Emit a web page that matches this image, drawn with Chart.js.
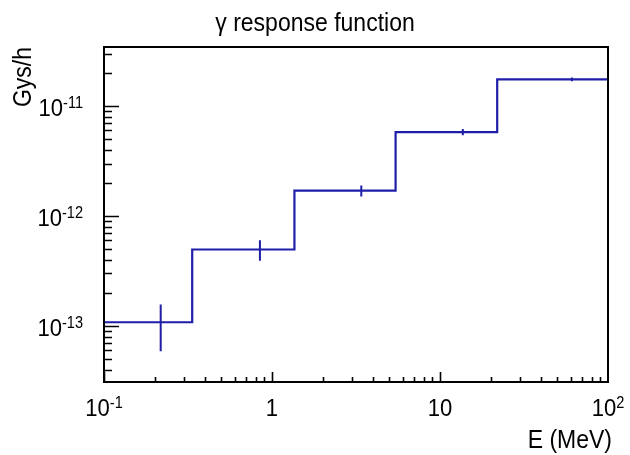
<!DOCTYPE html>
<html>
<head>
<meta charset="utf-8">
<script src="https://cdn.jsdelivr.net/npm/chart.js@4"></script>
<style>
  html, body { margin: 0; padding: 0; background: #ffffff; }
  #wrap { width: 630px; height: 455px; }
</style>
</head>
<body>
<div id="wrap"><canvas id="c" width="630" height="455"></canvas></div>
<script>
// ---- data ----
const binEdges = [0.1, 0.335, 1.36, 5.44, 21.9, 100];          // E (MeV)
const binValues = [1.08e-13, 4.96e-13, 1.70e-12, 5.8e-12, 1.75e-11]; // Gys/h
const binErrors = [4.9e-14, 1.05e-13, 1.96e-13, 3.8e-13, 7.0e-13];
const xTickValues = [0.1, 1, 10, 100];
const xTickLabels = ['10^-1', '1', '10', '10^2'];
const yTickValues = [1e-13, 1e-12, 1e-11];
const yTickLabels = ['10^-13', '10^-12', '10^-11'];
const titleText = '\u03B3 response function';
const xTitle = 'E (MeV)';
const yTitle = 'Gys/h';
const xRange = [0.1, 100];
const yRange = [3.09e-14, 3.45e-11];

// ---- build datasets ----
const histPoints = binEdges.map((e, i) => ({ x: e, y: binValues[Math.min(i, binValues.length - 1)] }));
const errPoints = [];
binValues.forEach((v, i) => {
  const c = (binEdges[i] + binEdges[i + 1]) / 2;
  errPoints.push({ x: c, y: v - binErrors[i] });
  errPoints.push({ x: c, y: v + binErrors[i] });
  errPoints.push({ x: c, y: null });
});

const BLUE = '#1e1ea8';
const FONT = '"Liberation Sans", Arial, Helvetica, sans-serif';
const HS = 0.92; // horizontal squeeze of the reference lettering

function textW(ctx, s, size) {
  ctx.font = size + 'px ' + FONT;
  return ctx.measureText(s).width * HS;
}
function put(ctx, s, x, y, size) {
  ctx.save();
  ctx.font = size + 'px ' + FONT;
  ctx.textAlign = 'left';
  ctx.textBaseline = 'alphabetic';
  ctx.translate(x, y);
  ctx.scale(HS, 1);
  ctx.fillText(s, 0, 0);
  ctx.restore();
}
function drawSupLabel(ctx, label, x, y, size, align) {
  const parts = label.split('^');
  const base = parts[0];
  const sup = parts[1] || '';
  const supSize = size * 0.66;
  const wb = textW(ctx, base, size);
  const ws = sup ? textW(ctx, sup, supSize) : 0;
  const total = wb + ws;
  let x0 = align === 'center' ? x - total / 2 : (align === 'right' ? x - total : x);
  put(ctx, base, x0, y, size);
  if (sup) put(ctx, sup, x0 + wb, y - size * 0.33, supSize);
}

const rootFrame = {
  id: 'rootFrame',
  afterDraw(chart) {
    const ctx = chart.ctx;
    const xs = chart.scales.x, ys = chart.scales.y;
    const a = chart.chartArea;
    ctx.save();
    ctx.strokeStyle = '#000';
    ctx.fillStyle = '#000';
    // frame
    ctx.lineWidth = 2;
    ctx.strokeRect(a.left, a.top, a.right - a.left, a.bottom - a.top);
    // ticks (inward)
    ctx.lineWidth = 1.6;
    ctx.beginPath();
    for (let d = -1; d < 2; d++) {
      for (let m = 1; m <= 9; m++) {
        const v = m * Math.pow(10, d);
        if (v < xRange[0] || v > xRange[1]) continue;
        const px = Math.round(xs.getPixelForValue(v)) + 0.5;
        const len = m === 1 ? 10 : 5;
        ctx.moveTo(px, a.bottom);
        ctx.lineTo(px, a.bottom - len);
      }
    }
    for (let d = -14; d <= -11; d++) {
      for (let m = 1; m <= 9; m++) {
        const v = m * Math.pow(10, d);
        if (v < yRange[0] || v > yRange[1]) continue;
        const py = Math.round(ys.getPixelForValue(v)) + 0.5;
        const len = m === 1 ? 15 : 8;
        ctx.moveTo(a.left, py);
        ctx.lineTo(a.left + len, py);
      }
    }
    ctx.stroke();
    // tick labels
    xTickValues.forEach((v, i) => {
      drawSupLabel(ctx, xTickLabels[i], xs.getPixelForValue(v), 416, 24, 'center');
    });
    yTickValues.forEach((v, i) => {
      drawSupLabel(ctx, yTickLabels[i], 83, ys.getPixelForValue(v) + 10, 24, 'right');
    });
    // title
    const tw = textW(ctx, titleText, 25);
    put(ctx, titleText, 315 - tw / 2, 31, 25);
    // x axis title, right aligned at axis end
    const xw = textW(ctx, xTitle, 25);
    put(ctx, xTitle, 612 - xw, 448, 25);
    // y axis title, rotated, ending at axis top
    ctx.save();
    ctx.translate(31, 47);
    ctx.rotate(-Math.PI / 2);
    const yw = textW(ctx, yTitle, 25);
    put(ctx, yTitle, -yw, 0, 25);
    ctx.restore();
    ctx.restore();
  }
};

new Chart(document.getElementById('c'), {
  type: 'line',
  data: {
    datasets: [
      {
        label: 'histogram',
        data: histPoints,
        stepped: true,
        borderColor: BLUE,
        borderWidth: 2.2,
        pointRadius: 0,
        fill: false,
        tension: 0
      },
      {
        label: 'errors',
        data: errPoints,
        borderColor: BLUE,
        borderWidth: 2,
        pointRadius: 0,
        fill: false,
        spanGaps: false,
        tension: 0
      }
    ]
  },
  options: {
    responsive: false,
    animation: false,
    events: [],
    layout: { padding: { left: 104, right: 22, top: 47, bottom: 73 } },
    plugins: { legend: { display: false }, title: { display: false }, tooltip: { enabled: false } },
    scales: {
      x: { type: 'logarithmic', min: xRange[0], max: xRange[1], display: false },
      y: { type: 'logarithmic', min: yRange[0], max: yRange[1], display: false }
    }
  },
  plugins: [rootFrame]
});
</script>
</body>
</html>
